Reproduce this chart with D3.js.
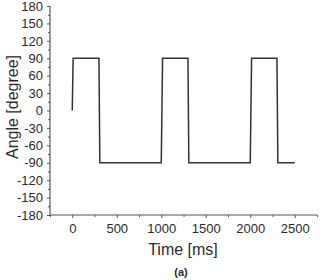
<!DOCTYPE html>
<html><head><meta charset="utf-8">
<script src="https://cdn.jsdelivr.net/npm/d3@7"></script>
<style>body{margin:0;background:#fff}svg{display:block}text{font-family:"Liberation Sans",Arial,sans-serif}</style>
</head><body><svg id="c" width="328" height="280"></svg>
<script>
const timeMs = [0, 10, 300, 310, 1000, 1015, 1300, 1310, 2000, 2015, 2300, 2310, 2500];
const angleDeg = [0, 90, 90, -90, -90, 90, 90, -90, -90, 90, 90, -90, -90];
const yTicks = [180,150,120,90,60,30,0,-30,-60,-90,-120,-150,-180];
const xTicks = [0,500,1000,1500,2000,2500];

const svg = d3.select("#c");
const x = d3.scaleLinear().domain([-250, 2750]).range([50, 317]);
const y = d3.scaleLinear().domain([-180, 180]).range([215, 6]);
const axisColor = "#555";
const textColor = "#2a2a2a";

// y axis
const ya = svg.append("g").attr("transform","translate(50,0)")
  .call(d3.axisLeft(y).tickValues(yTicks).tickSize(3).tickPadding(4).tickFormat(d=>d));
const yMinor = svg.append("g").attr("transform","translate(50,0)")
  .call(d3.axisLeft(y).tickValues(d3.range(-165,180,30)).tickSize(2).tickFormat(""));
yMinor.select(".domain").remove();
// x axis
const xa = svg.append("g").attr("transform","translate(0,215)")
  .call(d3.axisBottom(x).tickValues(xTicks).tickSize(3).tickPadding(6).tickFormat(d=>d));
const xMinor = svg.append("g").attr("transform","translate(0,215)")
  .call(d3.axisBottom(x).tickValues([-250,250,750,1250,1750,2250,2750]).tickSize(2).tickFormat(""));
xMinor.select(".domain").remove();

svg.selectAll(".domain").attr("stroke",axisColor).attr("stroke-width",1.2);
svg.selectAll(".tick line").attr("stroke",axisColor);
ya.select(".domain").attr("d","M0,6V215");
xa.select(".domain").attr("d","M50,0H317");
ya.selectAll("text").attr("font-size",13).attr("fill",textColor).attr("font-family","Liberation Sans, Arial, sans-serif");
xa.selectAll("text").attr("font-size",13).attr("fill",textColor).attr("font-family","Liberation Sans, Arial, sans-serif");

// line
const line = d3.line().x((d,i)=>x(timeMs[i])).y((d,i)=>y(angleDeg[i]));
svg.append("path").datum(timeMs).attr("d", line)
  .attr("fill","none").attr("stroke","#333").attr("stroke-width",1.5);

// titles
svg.append("text").attr("transform","translate(18,107) rotate(-90)")
  .attr("text-anchor","middle").attr("font-size",16).attr("fill",textColor).text("Angle [degree]");
svg.append("text").attr("x",183).attr("y",255).attr("text-anchor","middle")
  .attr("font-size",16).attr("fill",textColor).text("Time [ms]");
svg.append("text").attr("x",181).attr("y",276).attr("text-anchor","middle")
  .attr("font-size",11).attr("font-weight","bold").attr("fill",textColor).text("(a)");
</script></body></html>
